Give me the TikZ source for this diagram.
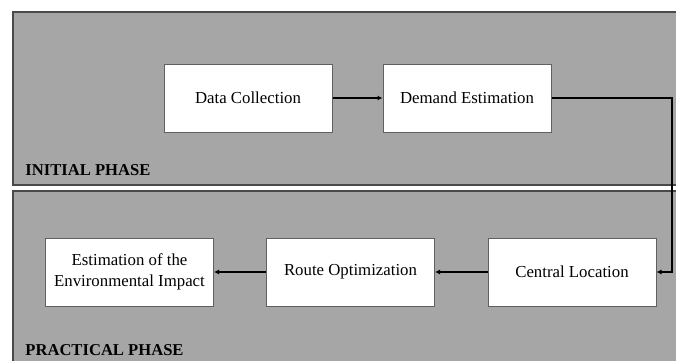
\documentclass[tikz,border=0pt]{standalone}
\usepackage{fontspec}
\setmainfont{Liberation Serif}
\usetikzlibrary{arrows.meta}

\definecolor{phasegray}{HTML}{A6A6A6}
\definecolor{phaseline}{HTML}{4A4A4A}
\definecolor{boxline}{HTML}{606060}

\begin{document}
\begin{tikzpicture}[x=0.5pt,y=-0.5pt,
    phase/.style={fill=phasegray,draw=phaseline,line width=0.6pt},
    phaselabel/.style={anchor=base west,font=\fontsize{8.3}{10}\selectfont\bfseries,inner sep=0pt},
    stepbox/.style={draw=boxline,fill=white,line width=0.5pt,minimum width=84pt,minimum height=34pt,
      align=center,font=\fontsize{8.4}{10.5}\selectfont,inner sep=2pt},
    flow/.style={draw=black,line width=0.7pt,-{Latex[length=2.5pt,width=2.5pt]}}]

      \clip (0,0) rectangle (676,360);

      % the two phases
      \path[phase] (13,12) rectangle (690,185);
      \path[phase] (13,191) rectangle (690,372);
      \node[phaselabel] (initial)   at (25,175) {INITIAL PHASE};
      \node[phaselabel] (practical) at (25,355) {PRACTICAL PHASE};

      \begin{scope}[every node/.style={stepbox}]
        \node (collect)  at (248,98)    {Data Collection};
        \node (demand)   at (467,98)    {Demand Estimation};
        \node (central)  at (572,272)   {Central Location};
        \node (route)    at (350.5,272) {Route Optimization};
        \node (impact)   at (129.5,272) {Estimation of the\\Environmental Impact};
      \end{scope}

      \coordinate (turn) at (672,98);

      \begin{scope}[every path/.style={flow}]
        \path (collect) -- (demand);
        \path (demand) -- (turn) |- (central);
        \path (central) -- (route);
        \path (route) -- (impact);
      \end{scope}

    \end{tikzpicture}
\end{document}
